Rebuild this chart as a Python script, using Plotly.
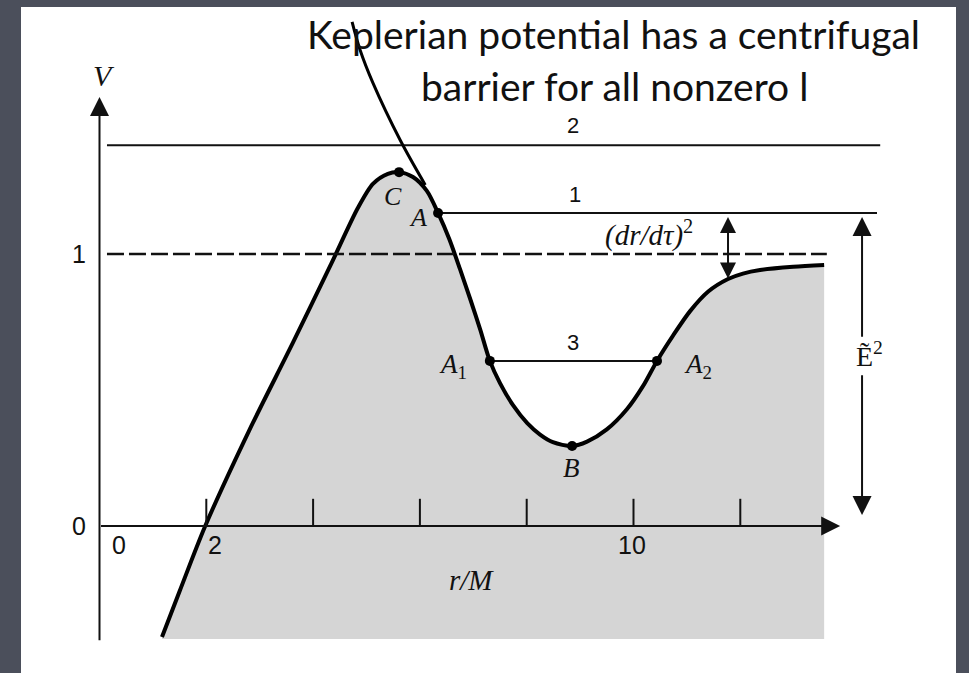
import plotly.graph_objects as go

# Effective potential V against r/M
r_curve = [1.17, 1.50, 1.98, 2.80, 3.62, 4.32, 4.84, 5.12, 5.40, 5.61, 5.87, 6.13,
           6.34, 6.55, 6.75, 6.95, 7.13, 7.31, 7.50, 7.74, 8.01, 8.25, 8.49, 8.85,
           9.13, 9.50, 9.88, 10.18, 10.44, 10.74, 11.06, 11.40, 11.77, 12.05, 12.37,
           12.99, 13.57]
v_curve = [-0.408, -0.24, 0.0, 0.35, 0.673, 0.956, 1.17, 1.258, 1.295, 1.301, 1.283, 1.232,
           1.151, 1.055, 0.945, 0.830, 0.722, 0.607, 0.525, 0.445, 0.378, 0.336, 0.308, 0.294,
           0.310, 0.355, 0.430, 0.515, 0.607, 0.700, 0.790, 0.862, 0.908, 0.928, 0.941,
           0.953, 0.960]
v_floor = -0.415

# Marked points on the curve
pt_names = ["C", "A", "A1", "A2", "B"]
pt_r = [5.61, 6.34, 7.31, 10.44, 8.85]
pt_v = [1.301, 1.151, 0.607, 0.607, 0.294]

# Energy levels
level_2 = 1.40
level_1 = 1.151
level_3 = 0.607
rest_level = 1.0
level_2_span = [0.14, 14.62]
level_1_span = [6.34, 14.56]
level_3_span = [7.31, 10.44]
rest_span = [0.14, 13.62]

# Axis ticks
x_ticks = [2, 4, 6, 8, 10, 12]
x_tick_labels = {0.365: "0", 2.16: "2", 9.97: "10"}
y_tick_labels = {0.0: "0", 1.0: "1"}

# Pointer from the caption to the barrier
pointer_r = [4.73, 4.88, 5.12, 5.63, 6.10]
pointer_v = [1.853, 1.75, 1.629, 1.419, 1.254]

W, H = 969, 673
X0_PX, Y0_PX = 99.5, 526.0
PX_PER_R, PX_PER_V = 53.4, 272.0
x_range = [-X0_PX / PX_PER_R, (W - X0_PX) / PX_PER_R]
y_range = [(Y0_PX - H) / PX_PER_V, Y0_PX / PX_PER_V]

INK = "#111111"
SANS = "Liberation Sans, Arial, sans-serif"
SERIF = "Liberation Serif, Times New Roman, serif"

fig = go.Figure()

# Shaded region under the potential
fig.add_trace(go.Scatter(x=[r_curve[0], r_curve[-1]], y=[v_floor, v_floor], mode="lines",
                         line=dict(width=0, color="rgba(0,0,0,0)"), hoverinfo="skip"))
fig.add_trace(go.Scatter(x=r_curve, y=v_curve, mode="lines", fill="tonexty",
                         fillcolor="#d5d5d5",
                         line=dict(color="black", width=4, shape="spline", smoothing=0.8),
                         hoverinfo="skip"))

# Horizontal energy lines
fig.add_trace(go.Scatter(x=level_2_span, y=[level_2, level_2], mode="lines",
                         line=dict(color=INK, width=2), hoverinfo="skip"))
fig.add_trace(go.Scatter(x=level_1_span, y=[level_1, level_1], mode="lines",
                         line=dict(color=INK, width=2), hoverinfo="skip"))
fig.add_trace(go.Scatter(x=level_3_span, y=[level_3, level_3], mode="lines",
                         line=dict(color=INK, width=2), hoverinfo="skip"))
fig.add_trace(go.Scatter(x=rest_span, y=[rest_level, rest_level], mode="lines",
                         line=dict(color=INK, width=2.5, dash="17px,5px"), hoverinfo="skip"))

# Points C, A, A1, A2, B
fig.add_trace(go.Scatter(x=pt_r, y=pt_v, mode="markers",
                         marker=dict(color="black", size=10), hoverinfo="skip"))

# Pointer line
fig.add_trace(go.Scatter(x=pointer_r, y=pointer_v, mode="lines",
                         line=dict(color="black", width=3, shape="spline"), hoverinfo="skip"))

shapes = [dict(type="rect", xref="paper", yref="paper", x0=21 / W, x1=956 / W,
               y0=0, y1=1 - 7 / H, fillcolor="white", line=dict(width=0), layer="below")]
for t in x_ticks:
    shapes.append(dict(type="line", xref="x", yref="y", x0=t, x1=t, y0=0, y1=0.1,
                       line=dict(color=INK, width=2)))

annotations = []


def arrow(x, y, ax, ay, side="end", size=1.9):
    annotations.append(dict(x=x, y=y, ax=ax, ay=ay, xref="x", yref="y", axref="x", ayref="y",
                            text="", showarrow=True, arrowhead=2, arrowsize=size,
                            startarrowhead=2, startarrowsize=size,
                            arrowwidth=2, arrowcolor=INK, arrowside=side))


def label(x, y, text, size=25, family=SANS, **kw):
    annotations.append(dict(x=x, y=y, xref="x", yref="y", text=text, showarrow=False,
                            font=dict(family=family, size=size, color=INK), **kw))


# Coordinate axes
arrow(0, 1.577, 0, -0.426)
arrow(13.87, 0, 0, 0)

# (dr/dtau)^2 gap and E^2 height
arrow(11.77, 1.136, 11.77, 0.904, side="end+start", size=1.6)
arrow(14.28, 1.136, 14.28, 0.69)
arrow(14.28, 0.04, 14.28, 0.56)

for v, t in y_tick_labels.items():
    label(-0.384, v, t)
for r, t in x_tick_labels.items():
    label(r, -0.07, t)

label(0.084, 1.658, "<i>V</i>", size=30, family=SERIF)
label(6.96, -0.20, "<i>r/M</i>", size=29, family=SERIF)
label(8.87, 1.474, "2", size=22)
label(8.90, 1.217, "1", size=22)
label(8.87, 0.673, "3", size=22)
label(5.50, 1.21, "<i>C</i>", size=26, family=SERIF)
label(5.96, 1.135, "<i>A</i>", size=26, family=SERIF)
label(6.62, 0.59, "<i>A</i><sub>1</sub>", size=27, family=SERIF)
label(11.2, 0.59, "<i>A</i><sub>2</sub>", size=27, family=SERIF)
label(8.83, 0.213, "<i>B</i>", size=27, family=SERIF)
label(10.29, 1.077, "<i>(dr/d\u03c4)</i><sup>2</sup>", size=29, family=SERIF)
label(14.42, 0.629, "\u1ebc<sup>2</sup>", size=28, family=SERIF)

# Caption
label(9.62, 1.808, "Keplerian potential has a centrifugal", size=39, family="Lato")
label(9.65, 1.618, "barrier for all nonzero l", size=39, family="Lato")

fig.update_layout(
    width=W, height=H, margin=dict(l=0, r=0, t=0, b=0),
    paper_bgcolor="#4b4f5b", plot_bgcolor="rgba(0,0,0,0)",
    showlegend=False,
    xaxis=dict(range=x_range, visible=False, fixedrange=True),
    yaxis=dict(range=y_range, visible=False, fixedrange=True),
    shapes=shapes, annotations=annotations,
)

fig.write_html("out.html")
